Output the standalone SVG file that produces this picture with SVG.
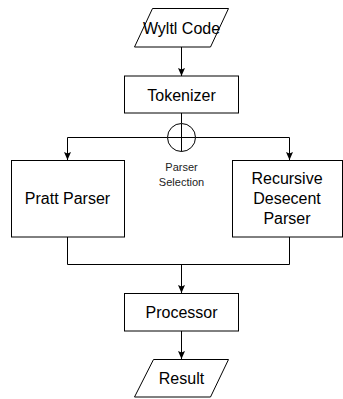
<svg xmlns="http://www.w3.org/2000/svg" width="343" height="399" viewBox="0 0 343 399">
  <style>
    .box { fill: #ffffff; stroke: #000000; stroke-width: 1; }
    .edge { fill: none; stroke: #000000; stroke-width: 1; }
    .lbl { font-family: "Liberation Sans", Arial, sans-serif; font-size: 16px; fill: #000000; text-anchor: middle; dominant-baseline: central; }
    .small { font-size: 11px; fill: #222222; }
  </style>
  <defs>
    <!-- classic arrowhead with a shallow notch at the back -->
    <marker id="arrow" viewBox="0 0 8 7" refX="8" refY="3.5" markerWidth="8" markerHeight="7" markerUnits="userSpaceOnUse" orient="auto">
      <path d="M0,0 L8,3.5 L0,7 L1.5,3.5 Z" fill="#000000"/>
    </marker>
  </defs>

  <g id="connectors">
    <path class="edge" d="M181.5,47 V76" marker-end="url(#arrow)"/>
    <path class="edge" d="M181.5,113 V123"/>
    <path class="edge" d="M167.5,137.5 H67.5 V160" marker-end="url(#arrow)"/>
    <path class="edge" d="M195.5,137.5 H289.5 V160" marker-end="url(#arrow)"/>
    <path class="edge" d="M67.5,237 V264.5 H289.5 V237"/>
    <path class="edge" d="M181.5,264.5 V293" marker-end="url(#arrow)"/>
    <path class="edge" d="M181.5,331 V359" marker-end="url(#arrow)"/>
  </g>

  <g id="wyltl-code">
    <polygon class="box" points="152.5,8.5 228.5,8.5 210.5,47 134.5,47"/>
    <text class="lbl" x="181.5" y="28">Wyltl Code</text>
  </g>

  <g id="tokenizer">
    <rect class="box" x="124.5" y="76" width="114" height="37"/>
    <text class="lbl" x="181.5" y="95">Tokenizer</text>
  </g>

  <g id="parser-selection">
    <circle class="box" cx="181.5" cy="137.5" r="14"/>
    <path class="edge" d="M167.5,137.5 H195.5 M181.5,123.5 V151.5"/>
    <text class="lbl small" x="181.5" y="167">Parser</text>
    <text class="lbl small" x="181.5" y="182">Selection</text>
  </g>

  <g id="pratt-parser">
    <rect class="box" x="11.5" y="160.5" width="113" height="76.5"/>
    <text class="lbl" x="67.5" y="198.5">Pratt Parser</text>
  </g>

  <g id="recursive-descent-parser">
    <rect class="box" x="232.5" y="160.5" width="110" height="76.5"/>
    <text class="lbl" x="287" y="178">Recursive</text>
    <text class="lbl" x="287" y="198.5">Desecent</text>
    <text class="lbl" x="287" y="218.5">Parser</text>
  </g>

  <g id="processor">
    <rect class="box" x="124.5" y="293.5" width="114" height="37.5"/>
    <text class="lbl" x="181.5" y="312">Processor</text>
  </g>

  <g id="result">
    <polygon class="box" points="153.5,359.5 228.5,359.5 210.5,397 134.5,397"/>
    <text class="lbl" x="181.5" y="378">Result</text>
  </g>
</svg>
